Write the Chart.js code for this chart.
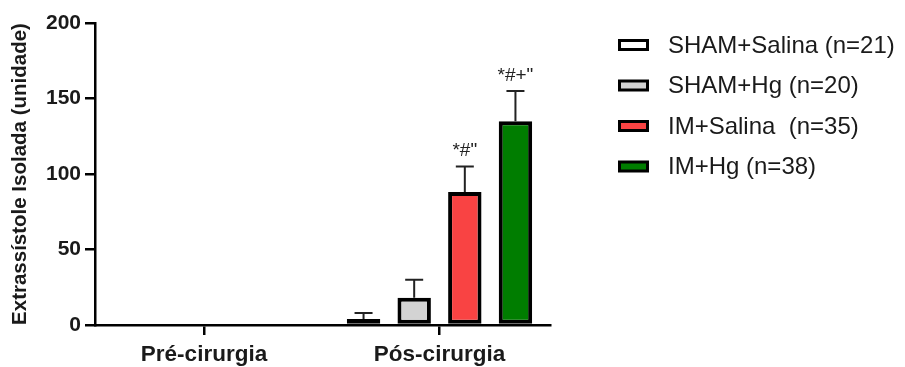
<!DOCTYPE html>
<html>
<head>
<meta charset="utf-8">
<script src="https://cdn.jsdelivr.net/npm/chart.js@4.4.1/dist/chart.umd.min.js"></script>
<style>
  html, body { margin: 0; padding: 0; background: #fff; }
  canvas { display: block; }
</style>
</head>
<body>
<canvas id="c" width="905" height="367"></canvas>
<script>
// Groups along the x axis
const categories = ['Pré-cirurgia', 'Pós-cirurgia'];

// Series names shown in the legend
const seriesNames = ['SHAM+Salina (n=21)', 'SHAM+Hg (n=20)', 'IM+Salina  (n=35)', 'IM+Hg (n=38)'];

// Mean values per group (Pré, Pós)
const shamSalina = [0, 4];
const shamHg     = [0, 18];
const imSalina   = [0, 88];
const imHg       = [0, 135];

// Standard error (drawn upward only)
const shamSalinaErr = [0, 4];
const shamHgErr     = [0, 12];
const imSalinaErr   = [0, 17];
const imHgErr       = [0, 20];

// Significance marks above each bar
const shamSalinaMarks = ['', ''];
const shamHgMarks     = ['', ''];
const imSalinaMarks   = ['', '*#"'];
const imHgMarks       = ['', '*#+"'];

// Y axis ticks
const yTicks = [0, 50, 100, 150, 200];

const fills = ['#ffffff', '#d3d3d3', '#f94343', '#007d00'];

const series = [
  { values: shamSalina, err: shamSalinaErr, marks: shamSalinaMarks },
  { values: shamHg,     err: shamHgErr,     marks: shamHgMarks },
  { values: imSalina,   err: imSalinaErr,   marks: imSalinaMarks },
  { values: imHg,       err: imHgErr,       marks: imHgMarks }
];

const datasets = series.map((s, i) => ({
  label: seriesNames[i],
  data: s.values.map((v, k) => ({ x: k, y: v })),
  err: s.err,
  marks: s.marks,
  backgroundColor: fills[i],
  borderColor: '#000',
  borderWidth: 4,
  borderSkipped: false,
  categoryPercentage: 0.86,
  barPercentage: 0.66
}));

// Upward error bars and significance marks
const errorBars = {
  id: 'errorBars',
  afterDatasetsDraw(chart) {
    const ctx = chart.ctx;
    const y = chart.scales.y;
    chart.data.datasets.forEach((ds, i) => {
      const meta = chart.getDatasetMeta(i);
      meta.data.forEach((bar, k) => {
        const v = ds.data[k].y;
        const e = ds.err[k];
        let topPx = bar.y;
        if (e > 0) {
          topPx = y.getPixelForValue(v + e);
          ctx.save();
          ctx.strokeStyle = '#222';
          ctx.lineWidth = 2;
          ctx.beginPath();
          ctx.moveTo(bar.x, bar.y);
          ctx.lineTo(bar.x, topPx);
          ctx.moveTo(bar.x - 9, topPx);
          ctx.lineTo(bar.x + 9, topPx);
          ctx.stroke();
          ctx.restore();
        }
        const m = ds.marks[k];
        if (m) {
          ctx.save();
          ctx.fillStyle = '#222';
          ctx.font = '19px Arial, "Liberation Sans", sans-serif';
          ctx.textAlign = 'center';
          ctx.textBaseline = 'bottom';
          ctx.fillText(m, bar.x, topPx - 6);
          ctx.restore();
        }
      });
    });
  }
};

// Legend on the right side
const sideLegend = {
  id: 'sideLegend',
  afterDraw(chart) {
    const ctx = chart.ctx;
    chart.data.datasets.forEach((ds, i) => {
      const cy = 45 + i * 40.5;
      ctx.save();
      ctx.fillStyle = '#000';
      ctx.fillRect(618, cy - 6, 31, 12);
      ctx.fillStyle = ds.backgroundColor;
      ctx.fillRect(621, cy - 3, 25, 6);
      ctx.fillStyle = '#1a1a1a';
      ctx.font = '24px Arial, "Liberation Sans", sans-serif';
      ctx.textAlign = 'left';
      ctx.textBaseline = 'middle';
      ctx.fillText(ds.label, 668, cy + 1);
      ctx.restore();
    });
  }
};

new Chart(document.getElementById('c'), {
  type: 'bar',
  data: { datasets },
  plugins: [errorBars, sideLegend],
  options: {
    responsive: false,
    animation: false,
    layout: { padding: { top: 23, right: 355, left: 0, bottom: 0 } },
    plugins: { legend: { display: false }, tooltip: { enabled: false } },
    scales: {
      x: {
        type: 'linear',
        min: -0.4628,
        max: 1.4692,
        offset: false,
        afterBuildTicks(scale) { scale.ticks = categories.map((_, k) => ({ value: k })); },
        afterFit(scale) { scale.height = 42; },
        ticks: {
          callback: (v) => categories[v],
          color: '#1a1a1a',
          font: { family: 'Arial, "Liberation Sans", sans-serif', size: 22.5, weight: 'bold' },
          padding: 6,
          maxRotation: 0
        },
        grid: { offset: false, drawOnChartArea: false, drawTicks: true, tickLength: 10, color: '#000', lineWidth: 2.5 },
        border: { color: '#000', width: 2.5 }
      },
      y: {
        min: 0,
        max: 200,
        afterBuildTicks(scale) { scale.ticks = yTicks.map(v => ({ value: v })); },
        afterFit(scale) { scale.width = 95; },
        ticks: {
          color: '#1a1a1a',
          font: { family: 'Arial, "Liberation Sans", sans-serif', size: 21, weight: 'bold' },
          padding: 4
        },
        grid: { drawOnChartArea: false, drawTicks: true, tickLength: 10, color: '#000', lineWidth: 2.5 },
        border: { color: '#000', width: 2.5 },
        title: {
          display: true,
          text: 'Extrassístole Isolada (unidade)',
          color: '#1a1a1a',
          font: { family: 'Arial, "Liberation Sans", sans-serif', size: 20.5, weight: 'bold' },
          padding: { top: 8, bottom: 0 }
        }
      }
    }
  }
});
</script>
</body>
</html>
